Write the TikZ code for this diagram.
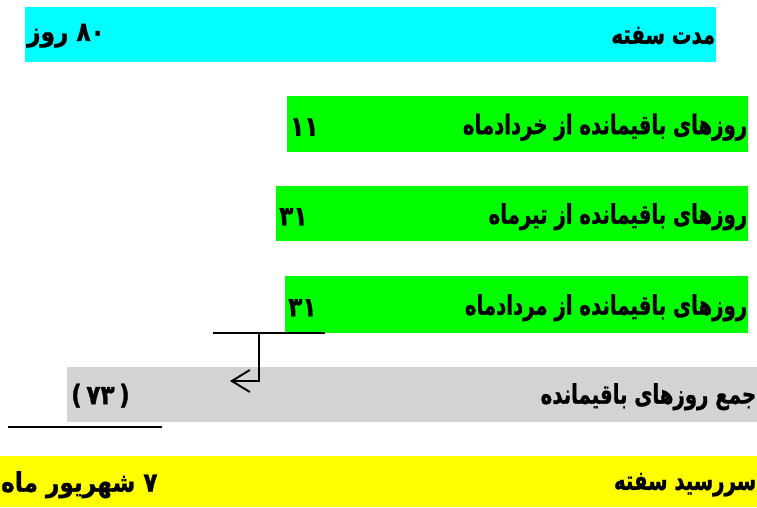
\documentclass[tikz,border=0pt]{standalone}
\usepackage{fontspec}
\newfontfamily\farsi[Script=Arabic,FakeStretch=0.73,BoldFeatures={FakeBold=1}]{DejaVu Sans}
\newfontfamily\farsival[Script=Arabic,FakeStretch=0.86,BoldFeatures={FakeBold=1}]{DejaVu Sans}
\newfontfamily\plainsans[FakeStretch=0.86,BoldFeatures={FakeBold=1}]{DejaVu Sans}
\TeXXeTstate=1
\usetikzlibrary{arrows.meta}
\definecolor{durcyan}{RGB}{0,255,255}
\definecolor{daygreen}{RGB}{0,255,0}
\definecolor{sumgray}{RGB}{211,211,211}
\definecolor{dueyellow}{RGB}{255,255,0}
\tikzset{
  bar/.style={anchor=north west, inner sep=0pt, minimum height=55pt},
  txt/.style={font=\farsi\bfseries\fontsize{27}{31}\selectfont, inner sep=0pt},
  val/.style={font=\farsival\bfseries\fontsize{27}{31}\selectfont, inner sep=0pt},
  rline/.style={line width=1.9pt},
}
\newcommand{\paren}[1]{{\plainsans\bfseries #1}}

\begin{document}
\begin{tikzpicture}[x=1pt,y=-1pt]
\useasboundingbox (0,0) rectangle (757,507);
% boxes
\node[bar, fill=durcyan, minimum width=691pt] (dur) at (25,7) {};
\node[bar, fill=daygreen, minimum width=461pt, minimum height=56pt] (kh) at (287,96) {};
\node[bar, fill=daygreen, minimum width=472pt] (tir) at (276,186) {};
\node[bar, fill=daygreen, minimum width=463pt, minimum height=57pt] (mor) at (285,276) {};
\node[bar, fill=sumgray, minimum width=690pt] (sum) at (67,367) {};
\node[bar, fill=dueyellow, minimum width=757pt, minimum height=51pt] (due) at (0,456) {};
% labels
\node[txt, anchor=east] (durlbl) at ([xshift=-1pt,yshift=-1pt]dur.east) {\beginR مدت سفته\endR};
\node[val, anchor=west] (durval) at ([xshift=2pt,yshift=-1pt]dur.west) {\beginR ۸۰ روز\endR};
\node[txt, anchor=east] (khlbl) at ([xshift=-1pt,yshift=-3pt]kh.east) {\beginR روزهای باقیمانده از خردادماه\endR};
\node[val, anchor=west] (khval) at ([xshift=3pt,yshift=-3pt]kh.west) {۱۱};
\node[txt, anchor=east] (tirlbl) at ([xshift=-1pt,yshift=-3pt]tir.east) {\beginR روزهای باقیمانده از تیرماه\endR};
\node[val, anchor=west] (tirval) at ([xshift=3pt,yshift=-3pt]tir.west) {۳۱};
\node[txt, anchor=east] (morlbl) at ([xshift=-1pt,yshift=-3pt]mor.east) {\beginR روزهای باقیمانده از مردادماه\endR};
\node[val, anchor=west] (morval) at ([xshift=3pt,yshift=-3pt]mor.west) {۳۱};
\node[txt, anchor=east] (sumlbl) at ([xshift=-1pt,yshift=-2pt]sum.east) {\beginR جمع روزهای باقیمانده\endR};
\node[val, anchor=west] (sumval) at ([xshift=4pt,yshift=-1pt]sum.west) {\paren{(}\,۷۳\,\paren{)}};
\node[txt, anchor=east] (duelbl) at ([xshift=-1pt,yshift=-3pt]due.east) {\beginR سررسید سفته\endR};
\node[val, anchor=west] (dueval) at ([xshift=1pt,yshift=-3pt]due.west) {\beginR ۷ شهریور ماه\endR};
% lines
\coordinate (capL) at (213,333);
\coordinate (capR) at (325,333);
\coordinate (drop) at (259,333);
\coordinate (bend) at (259,381);
\coordinate (tip) at (230,381);
\coordinate (undL) at (8,427);
\coordinate (undR) at (162,427);
\draw[rline] (capL) -- (capR);
\draw[rline, -{Straight Barb[length=18pt,width=22pt,line width=1.9pt]}] (drop) -- (bend) -- (tip);
\draw[rline] (undL) -- (undR);
\end{tikzpicture}
\end{document}
